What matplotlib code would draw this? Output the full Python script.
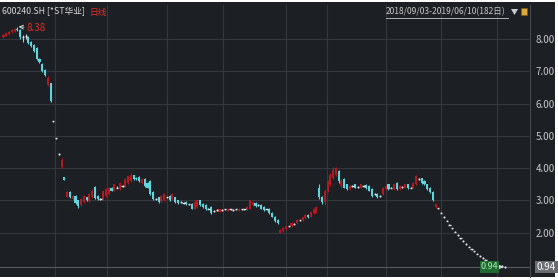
import numpy as np
import matplotlib
matplotlib.use("Agg")
import matplotlib.pyplot as plt
from matplotlib.patches import Rectangle, Polygon
from matplotlib.lines import Line2D

plt.rcParams['font.family'] = ['Noto Sans CJK SC', 'DejaVu Sans']

# daily candles, 2018/09/03 - 2019/06/10 (182 days)
opens = [8.05, 8.10, 8.15, 8.20, 8.25, 8.32, 8.28, 8.05, 8.08, 8.05, 7.92, 7.80, 7.72, 7.38, 7.22, 7.05, 6.58, 6.62,
         5.45, 4.92, 4.44, 4.02, 3.72,
         3.12, 3.25, 3.05, 3.15, 3.00, 2.85, 2.95, 3.10, 2.98, 3.10, 3.42, 3.15, 3.05, 3.05,
         3.15, 3.20, 3.40, 3.30, 3.40, 3.35, 3.45, 3.45, 3.55, 3.60, 3.78, 3.70, 3.72, 3.55, 3.65, 3.55, 3.60, 3.25,
         3.05, 3.10, 2.98, 3.00, 3.10, 3.15, 3.05, 3.10, 3.00, 2.95, 2.92, 2.95, 2.88, 2.90, 2.75, 2.80, 3.00, 2.90,
         2.85, 2.75, 2.80, 2.68, 2.70, 2.65, 2.70, 2.72, 2.68, 2.72, 2.70, 2.72, 2.70, 2.72, 2.73, 2.72, 2.75, 2.85,
         2.92, 2.85, 2.85, 2.80, 2.72, 2.75, 2.62, 2.50, 2.40, 2.00, 2.05, 2.12, 2.20, 2.20, 2.28, 2.30, 2.38, 2.38,
         2.45, 2.55, 2.50, 2.60, 2.62, 3.40, 3.10, 2.95, 3.30, 3.50, 3.70, 3.80, 3.90, 3.45, 3.65, 3.50, 3.35, 3.45,
         3.50, 3.42, 3.40, 3.45, 3.48, 3.45, 3.35, 3.20, 3.20, 3.15, 3.20, 3.35, 3.50, 3.40, 3.35, 3.55, 3.35, 3.42,
         3.40, 3.50, 3.40, 3.40, 3.50, 3.65, 3.68, 3.60, 3.50, 3.40, 3.25, 2.80,
         2.76, 2.62, 2.49, 2.37, 2.25, 2.14, 2.03, 1.93, 1.83, 1.74, 1.65, 1.57, 1.49, 1.42, 1.35, 1.28, 1.22, 1.16,
         1.10, 1.05, 1.00, 0.99, 0.96, 0.97, 0.94]
closes = [8.12, 8.18, 8.22, 8.28, 8.32, 8.28, 8.05, 8.05, 8.08, 7.88, 7.78, 7.62, 7.38, 7.28, 7.02, 6.88, 6.80, 6.07,
          5.45, 4.92, 4.44, 4.26, 3.64,
          3.25, 3.10, 3.15, 2.92, 2.82, 3.05, 3.15, 3.00, 3.20, 3.30, 3.08, 3.05, 3.05, 3.28,
          3.35, 3.40, 3.30, 3.50, 3.40, 3.55, 3.45, 3.65, 3.75, 3.80, 3.65, 3.66, 3.60, 3.65, 3.45, 3.40, 3.20, 3.05,
          3.05, 2.95, 3.15, 3.20, 3.10, 3.00, 3.20, 2.95, 2.92, 2.95, 2.92, 2.88, 2.88, 2.75, 2.95, 3.00, 2.85, 2.80,
          2.72, 2.75, 2.60, 2.68, 2.70, 2.72, 2.70, 2.72, 2.75, 2.72, 2.70, 2.72, 2.75, 2.72, 2.73, 2.80, 3.00, 2.95,
          2.82, 2.85, 2.75, 2.70, 2.72, 2.60, 2.50, 2.35, 2.30, 2.10, 2.15, 2.20, 2.20, 2.30, 2.28, 2.40, 2.38, 2.48,
          2.55, 2.48, 2.65, 2.75, 2.80, 3.10, 2.95, 3.30, 3.60, 3.80, 3.95, 4.00, 3.60, 3.60, 3.40, 3.35, 3.45, 3.45,
          3.40, 3.42, 3.50, 3.45, 3.38, 3.30, 3.15, 3.20, 3.10, 3.15, 3.40, 3.45, 3.35, 3.40, 3.50, 3.35, 3.45, 3.42,
          3.50, 3.38, 3.40, 3.55, 3.75, 3.65, 3.55, 3.50, 3.35, 3.25, 3.00, 2.90,
          2.76, 2.62, 2.49, 2.37, 2.25, 2.14, 2.03, 1.93, 1.83, 1.74, 1.65, 1.57, 1.49, 1.42, 1.35, 1.28, 1.22, 1.16,
          1.10, 1.05, 1.00, 0.99, 0.96, 0.97, 0.94]
highs = [8.15, 8.22, 8.25, 8.32, 8.35, 8.38, 8.30, 8.12, 8.15, 8.08, 7.95, 7.85, 7.75, 7.42, 7.25, 7.08, 6.85, 6.65,
         5.47, 4.94, 4.46, 4.30, 3.74,
         3.30, 3.28, 3.18, 3.18, 3.02, 3.08, 3.18, 3.12, 3.22, 3.35, 3.45, 3.18, 3.08, 3.30,
         3.38, 3.42, 3.42, 3.52, 3.45, 3.58, 3.48, 3.68, 3.78, 3.85, 3.80, 3.74, 3.75, 3.68, 3.68, 3.58, 3.62, 3.28,
         3.08, 3.12, 3.18, 3.22, 3.12, 3.18, 3.22, 3.12, 3.02, 2.98, 2.95, 2.98, 2.90, 2.92, 2.98, 3.02, 3.02, 2.92,
         2.88, 2.78, 2.82, 2.70, 2.72, 2.74, 2.72, 2.74, 2.77, 2.74, 2.72, 2.74, 2.77, 2.74, 2.75, 2.82, 3.02, 2.98,
         2.95, 2.88, 2.88, 2.82, 2.75, 2.78, 2.65, 2.52, 2.42, 2.12, 2.18, 2.22, 2.22, 2.32, 2.30, 2.42, 2.40, 2.50,
         2.58, 2.58, 2.68, 2.78, 2.82, 3.50, 3.15, 3.35, 3.62, 3.85, 4.05, 4.05, 3.95, 3.65, 3.68, 3.52, 3.48, 3.48,
         3.52, 3.45, 3.52, 3.48, 3.50, 3.48, 3.38, 3.22, 3.22, 3.18, 3.42, 3.48, 3.52, 3.42, 3.52, 3.58, 3.48, 3.45,
         3.52, 3.52, 3.42, 3.58, 3.80, 3.70, 3.70, 3.62, 3.52, 3.42, 3.28, 2.92,
         2.78, 2.64, 2.51, 2.39, 2.27, 2.16, 2.05, 1.95, 1.85, 1.76, 1.67, 1.59, 1.51, 1.44, 1.37, 1.30, 1.24, 1.18,
         1.12, 1.07, 1.02, 1.01, 0.98, 0.99, 0.96]
lows = [8.02, 8.08, 8.12, 8.18, 8.22, 8.25, 8.00, 7.92, 8.00, 7.85, 7.75, 7.58, 7.35, 7.25, 6.98, 6.85, 6.55, 6.05,
        5.43, 4.90, 4.42, 4.00, 3.62,
        3.10, 3.08, 3.02, 2.90, 2.78, 2.82, 2.92, 2.98, 2.95, 3.08, 3.05, 3.02, 3.02, 3.02,
        3.12, 3.18, 3.28, 3.28, 3.38, 3.32, 3.42, 3.42, 3.52, 3.58, 3.62, 3.62, 3.58, 3.52, 3.42, 3.38, 3.18, 3.02,
        3.02, 2.92, 2.95, 2.98, 3.08, 2.98, 3.02, 2.92, 2.90, 2.92, 2.90, 2.85, 2.85, 2.72, 2.72, 2.78, 2.82, 2.78,
        2.70, 2.72, 2.58, 2.65, 2.68, 2.63, 2.68, 2.70, 2.66, 2.70, 2.68, 2.70, 2.68, 2.70, 2.71, 2.70, 2.72, 2.82,
        2.80, 2.82, 2.72, 2.68, 2.70, 2.58, 2.48, 2.32, 2.28, 1.98, 2.02, 2.10, 2.18, 2.18, 2.25, 2.28, 2.35, 2.35,
        2.42, 2.45, 2.48, 2.58, 2.60, 3.05, 2.90, 2.85, 3.25, 3.45, 3.65, 3.75, 3.55, 3.40, 3.38, 3.32, 3.32, 3.42,
        3.38, 3.40, 3.38, 3.42, 3.35, 3.28, 3.12, 3.18, 3.08, 3.12, 3.18, 3.32, 3.32, 3.38, 3.32, 3.32, 3.32, 3.40,
        3.38, 3.35, 3.38, 3.38, 3.48, 3.62, 3.52, 3.48, 3.32, 3.22, 2.98, 2.78,
        2.74, 2.60, 2.47, 2.35, 2.23, 2.12, 2.01, 1.91, 1.81, 1.72, 1.63, 1.55, 1.47, 1.40, 1.33, 1.26, 1.20, 1.14,
        1.08, 1.03, 0.98, 0.97, 0.94, 0.95, 0.92]

price_ticks = [2, 3, 4, 5, 6, 7, 8]
month_lines = [18.6, 37.4, 59, 79.3, 102, 116.8, 138, 158, 178.2]
peak_price = 8.38
last_price = 0.94

BG = '#1c1f24'
GRID = '#34373c'
RED = '#b3191f'
CYAN = '#5fd6de'
DOJI = '#dfe6e8'

W, H = 558, 280
fig = plt.figure(figsize=(W / 100, H / 100), dpi=100)
fig.patch.set_facecolor('white')
fig.patches.append(Rectangle((0, 3 / H), 555 / W, 275 / H, transform=fig.transFigure,
                             facecolor=BG, edgecolor='none', zorder=-5))

# axes spans pixel rows 5..277, columns 0..530
ax = fig.add_axes([0, 3 / H, 530 / W, 272 / H])
ax.set_facecolor(BG)

o = np.array(opens)
c = np.array(closes)
hi = np.array(highs)
lo = np.array(lows)
x = np.arange(len(o))

up = c > o
down = c < o
flat = c == o

for ml in month_lines:
    ax.axvline(ml, color=GRID, lw=0.8, zorder=1)
for t in price_ticks:
    ax.axhline(t, color=GRID, lw=0.8, zorder=1)
ax.axhline(last_price, color='#55585e', lw=0.8, zorder=1)

ax.vlines(x[up], lo[up], hi[up], color=RED, lw=0.8, zorder=3)
ax.bar(x[up], (c - o)[up], bottom=o[up], width=0.75, color=RED, zorder=3)
ax.vlines(x[down], lo[down], hi[down], color=CYAN, lw=0.8, zorder=3)
ax.bar(x[down], (c - o)[down], bottom=o[down], width=0.75, color=CYAN, zorder=3)
ax.vlines(x[flat], lo[flat], hi[flat], color=DOJI, lw=0.6, zorder=3)
ax.hlines(c[flat], x[flat] - 0.4, x[flat] + 0.4, color=DOJI, lw=1.0, zorder=3)

ax.set_xlim(-1.26, 190.1)
ax.set_ylim(0.63, 9.05)

ax.yaxis.tick_right()
ax.set_yticks(price_ticks)
ax.set_yticklabels(['%.2f' % t for t in price_ticks])
ax.tick_params(axis='y', length=0, pad=4, labelsize=7, labelcolor='#c8c8c8')
ax.set_xticks([])
for s in ['top', 'left', 'bottom']:
    ax.spines[s].set_visible(False)
ax.spines['right'].set_color('#45484d')
ax.spines['right'].set_linewidth(0.8)

# high / low markers
ipk = int(np.argmax(hi))
ax.annotate('%.2f' % peak_price, xy=(ipk, peak_price), xytext=(8.4, 8.33),
            color='#e0302a', fontsize=7, va='center', ha='left',
            arrowprops=dict(arrowstyle='->', color='#e8e8e8', lw=0.6, shrinkA=0, shrinkB=1))
ax.annotate('%.2f' % last_price, xy=(x[-1], last_price), xytext=(175.5, last_price),
            color='#a8eab0', fontsize=6.5, va='center', ha='center',
            bbox=dict(boxstyle='square,pad=0.12', facecolor='#1f6a33', edgecolor='none'),
            arrowprops=dict(arrowstyle='->', color='#e8e8e8', lw=0.6, shrinkA=6, shrinkB=1))
ax.annotate('%.2f' % last_price, xy=(1.0, last_price), xycoords=('axes fraction', 'data'),
            xytext=(5, 0), textcoords='offset points', color='white', fontsize=7,
            va='center', ha='left', annotation_clip=False,
            bbox=dict(boxstyle='square,pad=0.15', facecolor='#6a6c70', edgecolor='none'))

# header line
fig.text(2 / W, 1 - 12 / H, '600240.SH [*ST华业]', color='#d8d8d8', fontsize=6.3, va='center', ha='left')
fig.text(89 / W, 1 - 12 / H, '日线', color='#e0302a', fontsize=6.3, va='center', ha='left')
fig.text(386 / W, 1 - 12 / H, '2018/09/03-2019/06/10(182日)', color='#c8c8c8', fontsize=6.1,
         va='center', ha='left')
fig.lines.append(Line2D([386 / W, 508 / W], [1 - 18 / H, 1 - 18 / H], transform=fig.transFigure,
                        color='#c8c8c8', lw=0.6))
fig.patches.append(Polygon([(511 / W, 1 - 9 / H), (518 / W, 1 - 9 / H), (514.5 / W, 1 - 15 / H)],
                           closed=True, transform=fig.transFigure, facecolor='#c9cdd2', edgecolor='none'))
fig.patches.append(Rectangle((521 / W, 1 - 15 / H), 6 / W, 7 / H, transform=fig.transFigure,
                             facecolor='#e0a83a', edgecolor='#7a5a1a', lw=0.5))

fig.savefig('out.png', dpi=100, facecolor=fig.get_facecolor())
